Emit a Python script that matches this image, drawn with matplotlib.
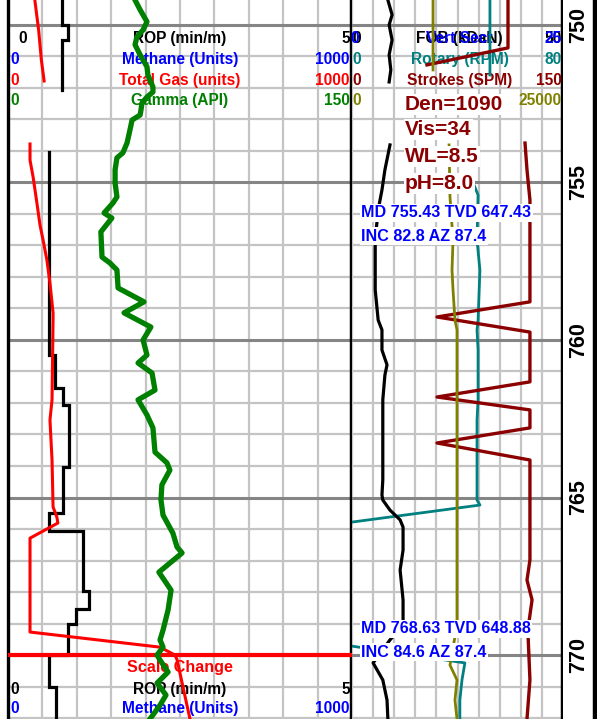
import numpy as np
import matplotlib
matplotlib.use('Agg')
import matplotlib.pyplot as plt

plt.rcParams['font.family'] = ['Liberation Sans', 'DejaVu Sans']

# ---------------- data ----------------
TOP, BOT = 749.21, 772.03
nan = np.nan

# ROP (min/m) step intervals
rop_top = [749.21, 750.00, 750.48, 754.03, 760.48, 761.52, 762.06, 764.03, 765.49, 766.06, 767.97, 768.54, 769.02, 770.00, 771.02]
rop_bot = [750.00, 750.48, 752.06, 760.48, 761.52, 762.06, 764.03, 765.49, 766.06, 767.97, 768.54, 769.02, 770.00, 771.02, 772.03]
rop_val = [0.79, 0.87, 0.79, 0.60, 0.68, 0.80, 0.89, 0.80, 0.60, 1.09, 1.18, 0.99, 0.87, 0.60, 0.70]

# Total gas (units)
gas_depth = [749.21, 750.16, 751.11, 751.78, nan, 753.78, 754.29, 754.83, 755.65, 756.35, 756.83, 757.46,
             758.19, 759.14, 759.37, 761.90, 762.54, 763.81, 765.30, 765.62, 765.81, 766.29, 769.27, 769.75,
             770.00, 770.13, 772.03]
gas_val = [78, 89, 97, 105, nan, 64, 64, 73, 84, 93, 102, 113,
           122, 131, 131, 128, 122, 128, 131, 142, 145, 64, 64, 442,
           485, 491, 529]

# Gamma (API)
gr_depth = [749.21, 749.52, 749.90, 750.16, 750.38, 750.63, 750.95, 751.33, 751.59, 751.97, 752.13, 752.29,
            752.48, 752.70, 752.86, 753.02, 753.33, 753.75, 754.06, 754.22, 754.60, 755.02, 755.46, 755.65,
            755.97, 756.13, 756.57, 757.37, 757.56, 757.78, 758.35, 758.79, 759.14, 759.59, 760.00, 760.48,
            760.73, 761.05, 761.59, 761.90, 762.38, 762.79, 763.56, 763.90, 764.13, 764.60, 765.08, 765.56,
            766.13, 766.57, 766.76, 767.37, 767.94, 768.57, 769.21, 769.52, 769.75, 770.00, 770.16, 770.54,
            770.89, 771.27, 771.59, 772.03]
gr_val = [55.4, 57.6, 60.6, 58.9, 56.2, 55.4, 57.6, 60.6, 61.0, 63.2, 63.2, 60.6,
          58.4, 58.0, 57.6, 54.1, 53.2, 51.9, 50.1, 47.5, 46.7, 46.7, 47.5, 45.8,
          41.9, 45.3, 40.5, 41.0, 44.5, 47.5, 48.0, 59.3, 50.6, 62.3, 58.9, 60.6,
          56.7, 62.8, 64.1, 56.7, 60.6, 63.2, 64.1, 69.3, 70.6, 67.1, 66.7, 67.6,
          71.9, 73.7, 75.9, 65.8, 71.1, 69.8, 67.6, 66.3, 67.6, 65.0, 66.3, 69.8,
          65.0, 68.9, 66.3, 61.9]

# FOB (kDaN)
fob_depth = [749.21, 749.68, 750.00, 750.48, 750.95, 751.43, 751.81, nan, 753.81, 754.60, 755.24, 755.87,
             756.83, 758.41, 759.37, 759.68, 760.32, 760.79, 761.11, 761.90, 764.44, 764.92, 765.08, 765.40,
             765.71, 765.94, 766.67, 767.30, 768.25, 769.05, 769.52, 770.25, 770.79, 771.43, 772.03]
fob_val = [8.5, 9.5, 8.8, 9.5, 8.8, 9.2, 8.8, nan, 9.0, 7.8, 7.1, 6.2,
           5.5, 5.5, 6.2, 7.1, 7.1, 8.3, 7.8, 7.3, 7.3, 7.1, 7.3, 9.0,
           11.4, 12.1, 12.1, 11.4, 12.1, 12.1, 9.0, 5.0, 7.3, 8.3, 8.5]

# Rotary (RPM)
rpm_depth = [749.21, 751.59, nan, 754.76, 755.40, 756.83, 757.78, 759.37, 759.68, 760.32, 761.90, 762.54,
             765.08, 765.24, 765.78, 765.84, 769.68, 770.25, 770.79, 771.43, 772.03]
rpm_val = [52.3, 52.3, nan, 44.7, 47.8, 47.4, 48.5, 47.8, 47.4, 47.8, 47.8, 47.4,
           47.4, 48.5, 0.0, -3.0, -3.0, 42.8, 41.7, 40.9, 40.9]

# Strokes (SPM)
spm_depth = [749.21, 750.73, 751.27, nan, 753.75, 754.60, 755.56, 758.79, 759.27, 759.75, 761.33, 761.81,
             762.22, 762.79, 763.27, 763.81, 766.98, 767.62, 768.25, 769.21, 770.79, 772.03]
spm_val = [110.9, 110.9, 53.3, nan, 123.0, 124.4, 126.5, 126.5, 60.4, 126.5, 126.5, 60.4,
           126.5, 126.5, 60.4, 126.5, 126.5, 124.4, 128.0, 125.0, 126.5, 124.4]

# Torque
trq_depth = [749.21, 751.43, nan, 753.81, 755.46, 756.83, 757.78, 758.41, 759.37, 759.68, 765.94, 769.05,
             770.32, 770.79, 771.43, 772.03]
trq_val = [9600, 9600, nan, 11500, 11610, 11970, 11850, 11970, 12200, 12440, 12440, 12440,
           11610, 12440, 12200, 12440]

depth_labels = [750, 755, 760, 765, 770]
scale_change_depth = 770.0

left_names = ['ROP (min/m)', 'Methane (Units)', 'Total Gas (units)', 'Gamma (API)']
left_min = ['0', '0', '0', '0']
left_max = ['5', '1000', '1000', '150']
left_cols = ['black', 'blue', 'red', 'green']

right_names = ['FOB (kDaN)', 'Rotary (RPM)', 'Strokes (SPM)', '']
right_min = ['0', '0', '0', '0']
right_max = ['50', '80', '150', '25000']
right_cols = ['black', '#008080', '#8b0000', '#808000']

mud_props = ['Den=1090', 'Vis=34', 'WL=8.5', 'pH=8.0']
surveys = [('MD 755.43 TVD 647.43', 'INC 82.8 AZ 87.4', 755.43),
           ('MD 768.63 TVD 648.88', 'INC 84.6 AZ 87.4', 768.63)]

# ---------------- layout ----------------
W, H = 597, 719
fig = plt.figure(figsize=(W / 100, H / 100), dpi=100)
fig.patch.set_facecolor('white')


def rect(x0, x1):
    return [x0 / W, 0, (x1 - x0) / W, 1]


axL = fig.add_axes(rect(8, 352))
axR = fig.add_axes(rect(352, 563))
axD = fig.add_axes(rect(563, 595))
for ax in (axL, axR, axD):
    ax.set_ylim(BOT, TOP)
    ax.set_xlim(0, 1)
    ax.tick_params(which='both', length=0, labelleft=False, labelbottom=False)
    for s in ('top', 'bottom'):
        ax.spines[s].set_visible(False)
for ax in (axL, axR):
    ax.set_xticks(np.linspace(0, 1, 11))
    ax.set_yticks(np.arange(750, 772, 5))
    ax.set_yticks(np.arange(750, 773, 1), minor=True)
    ax.grid(which='minor', axis='y', color='#c4c4c4', lw=1.6)
    ax.grid(which='major', axis='x', color='#c4c4c4', lw=1.6)
    ax.grid(which='major', axis='y', color='#858585', lw=2.2)
    ax.set_axisbelow(True)
axD.set_xticks([])
axD.set_yticks([])

axL.spines['left'].set_linewidth(2.4)
axL.spines['right'].set_linewidth(3.2)
axR.spines['left'].set_visible(False)
axR.spines['right'].set_linewidth(3.2)
axD.spines['left'].set_visible(False)
axD.spines['right'].set_linewidth(3.2)


def track(parent, lo, hi):
    a = parent.twiny()
    a.set_xlim(lo, hi)
    a.set_ylim(BOT, TOP)
    a.axis('off')
    return a


def step_path(tops, bots, vals):
    xs, ys = [], []
    for i, (t, b, v) in enumerate(zip(tops, bots, vals)):
        if i > 0 and abs(t - bots[i - 1]) > 1e-6:
            xs.append(np.nan)
            ys.append(np.nan)
        xs += [v, v]
        ys += [t, b]
    return xs, ys


# headers (drawn on base axes, below curves)
trL = axL.get_yaxis_transform()
trR = axR.get_yaxis_transform()
row_depths = [750.44, 751.11, 751.75, 752.41]
fs = 11.2
for i, d in enumerate(row_depths):
    x0 = 0.029 if i == 0 else 0.006
    axL.text(x0, d, left_min[i], color=left_cols[i], transform=trL, ha='left', va='center', fontsize=fs, weight='bold')
    axL.text(0.5, d, left_names[i], color=left_cols[i], transform=trL, ha='center', va='center', fontsize=fs, weight='bold')
    axL.text(0.994, d, left_max[i], color=left_cols[i], transform=trL, ha='right', va='center', fontsize=fs, weight='bold')
    axR.text(0.0, d, right_min[i], color=right_cols[i], transform=trR, ha='left', va='center', fontsize=fs, weight='bold')
    if right_names[i]:
        axR.text(0.51, d, right_names[i], color=right_cols[i], transform=trR, ha='center', va='center', fontsize=fs, weight='bold')
    axR.text(0.995, d, right_max[i], color=right_cols[i], transform=trR, ha='right', va='center', fontsize=fs, weight='bold')
# overlapping Vert Sect scale
axR.text(-0.01, row_depths[0], '0', color='blue', transform=trR, ha='left', va='center', fontsize=fs, weight='bold')
axR.text(0.51, row_depths[0], 'Vert Sect', color='blue', transform=trR, ha='center', va='center', fontsize=fs, weight='bold')
axR.text(0.995, row_depths[0], '25', color='blue', transform=trR, ha='right', va='center', fontsize=fs, weight='bold')

# bottom (after scale change) header
axL.text(0.5, 770.41, 'Scale Change', color='red', transform=trL, ha='center', va='center', fontsize=fs + 0.4, weight='bold')
for d, i in ((771.08, 0), (771.71, 1)):
    axL.text(0.006, d, left_min[i], color=left_cols[i], transform=trL, ha='left', va='center', fontsize=fs, weight='bold')
    axL.text(0.5, d, left_names[i], color=left_cols[i], transform=trL, ha='center', va='center', fontsize=fs, weight='bold')
    axL.text(0.994, d, left_max[i], color=left_cols[i], transform=trL, ha='right', va='center', fontsize=fs, weight='bold')

# left track curves
aRop = track(axL, 0, 5)
xs, ys = step_path(rop_top, rop_bot, rop_val)
aRop.plot(xs, ys, color='black', lw=2.3, solid_joinstyle='miter')

aGas = track(axL, 0, 1000)
aGas.axhline(scale_change_depth, color='red', lw=3)
aGas.plot(gas_val, gas_depth, color='red', lw=2.2)

aGr = track(axL, 0, 150)
aGr.plot(gr_val, gr_depth, color='green', lw=3.8)

# right track curves
aRpm = track(axR, 0, 80)
aRpm.plot(rpm_val, rpm_depth, color='#008080', lw=2.0)
aSpm = track(axR, 0, 150)
aSpm.plot(spm_val, spm_depth, color='#8b0000', lw=2.4)
aTrq = track(axR, 0, 25000)
aTrq.plot(trq_val, trq_depth, color='#808000', lw=2.0)
aFob = track(axR, 0, 50)
aFob.plot(fob_val, fob_depth, color='black', lw=2.3)

# annotations on top
aTop = track(axR, 0, 1)
trT = aTop.get_yaxis_transform()
for txt, d in zip(mud_props, [752.54, 753.33, 754.19, 755.02]):
    aTop.text(0.251, d, txt, color='#8b0000', transform=trT, ha='left', va='center', fontsize=15,
              weight='bold', bbox=dict(facecolor='white', edgecolor='none', pad=0.8), clip_on=False)
for l1, l2, md in surveys:
    aTop.text(0.043, md + 0.54, l1, color='blue', transform=trT, ha='left', va='center', fontsize=11.6,
              weight='bold', bbox=dict(facecolor='white', edgecolor='none', pad=1.0), clip_on=False)
    aTop.text(0.043, md + 1.28, l2, color='blue', transform=trT, ha='left', va='center', fontsize=11.6,
              weight='bold', bbox=dict(facecolor='white', edgecolor='none', pad=1.0), clip_on=False)

# depth labels
for d in depth_labels:
    axD.text(0.5, d, str(d), rotation=90, ha='center', va='center', fontsize=15.5, weight='bold',
             transform=axD.get_yaxis_transform())

fig.savefig('out.png', dpi=100, facecolor='white')
